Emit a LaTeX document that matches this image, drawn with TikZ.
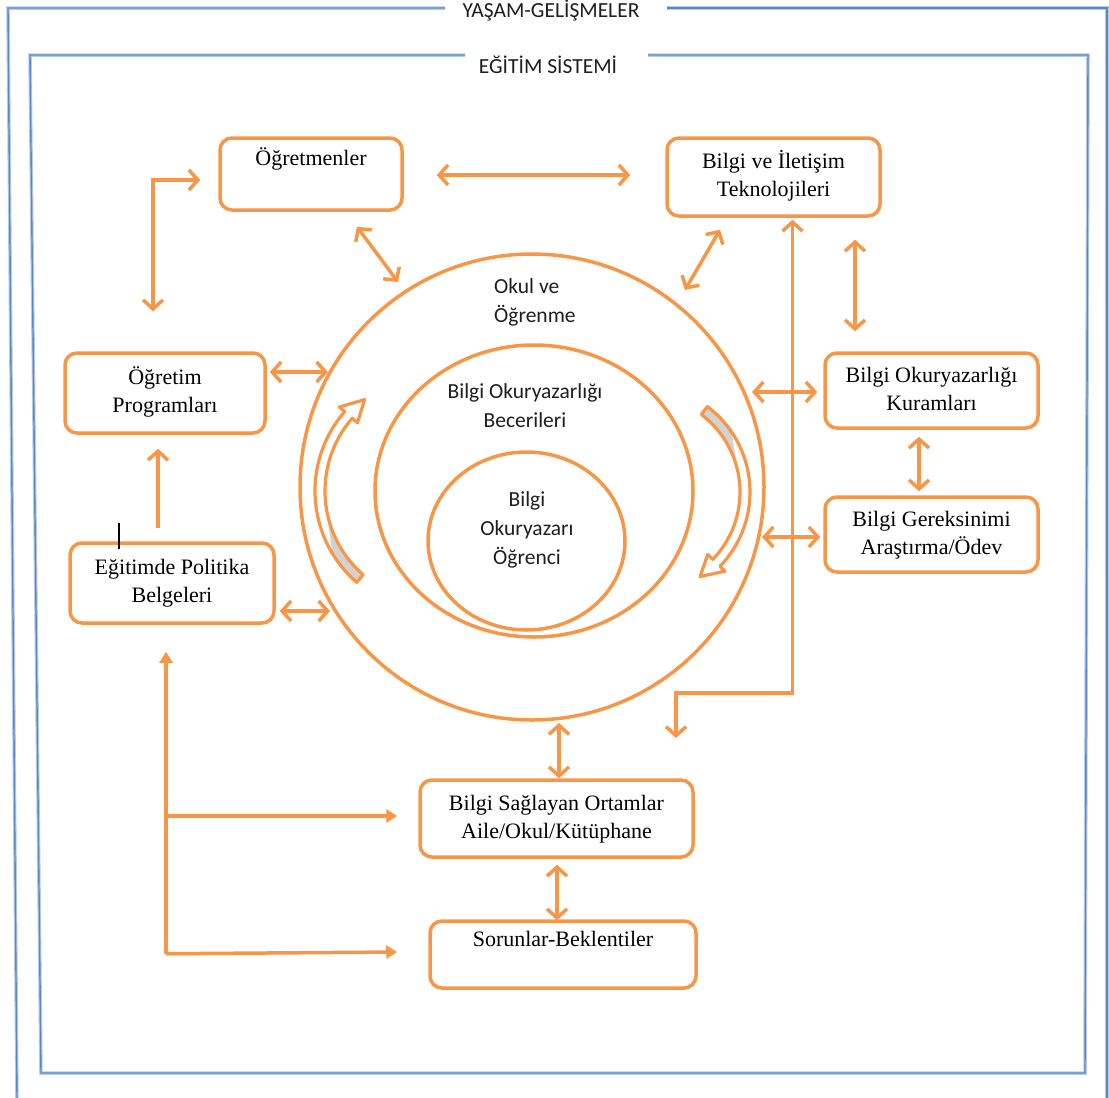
\documentclass[tikz,border=0pt]{standalone}
\usepackage{fontspec}
\setmainfont{Liberation Serif}
\newfontfamily\calfont{Carlito}
\usetikzlibrary{shapes.geometric,arrows.meta,calc}
\definecolor{org}{HTML}{F79646}
\definecolor{frm}{HTML}{5B87C7}
\definecolor{frml}{HTML}{B7CBEA}
\definecolor{txt}{HTML}{1E1E1E}
\definecolor{gry}{HTML}{D2D2D2}
\begin{document}
\begin{tikzpicture}[x=1pt,y=-1pt,
  box/.style={draw=org,line width=3.5pt,rounded corners=12pt,fill=white,inner sep=0pt,align=center,text=black,font=\fontsize{22}{28}\selectfont},
  circ/.style={draw=org,line width=3.5pt,ellipse,inner sep=0pt,outer sep=0pt},
  clbl/.style={text=txt,font=\calfont\fontsize{21.5}{29}\selectfont,inner sep=0pt},
  dbl/.style={draw=org,line width=3.5pt,{Straight Barb[length=9pt,width=20pt]}-{Straight Barb[length=9pt,width=20pt]}},
  sgl/.style={draw=org,line width=3.5pt,-{Straight Barb[length=9pt,width=20pt]}},
  fil/.style={draw=org,line width=3.5pt,-{Triangle[length=11pt,width=13pt]}},
  fr/.style={draw=frm,line width=1.4pt,preaction={draw=frml,line width=3.5pt}},
  ftitle/.style={text=txt,font=\calfont\fontsize{21.5}{26}\selectfont,inner sep=0pt},
  carrow/.style={draw=org,line width=3.2pt,line join=round}
]
\useasboundingbox (0,0) rectangle (1109,1098);

% frames
\draw[fr] (445,8) -- (8,8) -- (17,1098);
\draw[fr] (667,8) -- (1107,8) -- (1107,1098);
\draw[fr] (465,55) -- (30,55) -- (41,1073) -- (1085,1073) -- (1088,55) -- (648,55);
\node[ftitle] (ttl1) at (551,11) {YAŞAM-GELİŞMELER};
\node[ftitle] (ttl2) at (548,65) {EĞİTİM SİSTEMİ};

% circles
\node[circ,minimum width=464pt,minimum height=466pt] (c1) at (532,487) {};
\node[circ,minimum width=318pt,minimum height=292pt] (c2) at (534,491) {};
\node[circ,minimum width=197pt,minimum height=178pt] (c3) at (526.5,541) {};

\node[clbl,anchor=west,align=left] (okul) at (494,302) {\strut Okul ve\\\strut Öğrenme};
\node[clbl,align=center] (bec) at (525,407) {\strut Bilgi Okuryazarlığı\\\strut Becerileri};
\node[clbl,align=center] (ogc) at (527,530) {\strut Bilgi\\\strut Okuryazarı\\\strut Öğrenci};

% curved block arrows
\fill[gry] plot[domain=131:149,samples=16] ({436+121*cos(\x)},{491+121*sin(\x)})
  -- ({436+112*cos(165)},{491+112*sin(165)})
  -- plot[domain=149:131,samples=16] ({436+111*cos(\x)},{491+111*sin(\x)}) -- cycle;
\draw[carrow] plot[domain=131:221,samples=40] ({436+121*cos(\x)},{491+121*sin(\x)})
  -- ({436+128*cos(221)},{491+128*sin(221)})
  -- ({436+116*cos(232)},{491+116*sin(232)})
  -- ({436+104*cos(221)},{491+104*sin(221)})
  -- ({436+111*cos(221)},{491+111*sin(221)})
  -- plot[domain=221:131,samples=40] ({436+111*cos(\x)},{491+111*sin(\x)}) -- cycle;

\fill[gry] plot[domain=-53:-34,samples=16] ({643+107*cos(\x)},{492+107*sin(\x)})
  -- ({643+98*cos(-18)},{492+98*sin(-18)})
  -- plot[domain=-34:-53,samples=16] ({643+97*cos(\x)},{492+97*sin(\x)}) -- cycle;
\draw[carrow] plot[domain=-53:44,samples=40] ({643+107*cos(\x)},{492+107*sin(\x)})
  -- ({643+114*cos(44)},{492+114*sin(44)})
  -- ({643+102*cos(56)},{492+102*sin(56)})
  -- ({643+90*cos(44)},{492+90*sin(44)})
  -- ({643+97*cos(44)},{492+97*sin(44)})
  -- plot[domain=44:-53,samples=40] ({643+97*cos(\x)},{492+97*sin(\x)}) -- cycle;

% boxes
\node[box,minimum width=182pt,minimum height=72pt] (ogr) at (311,174) {\strut Öğretmenler\\\strut};
\node[box,minimum width=213pt,minimum height=78pt] (bit) at (773.5,177) {\strut Bilgi ve İletişim\\\strut Teknolojileri};
\node[box,minimum width=200pt,minimum height=80pt] (prog) at (165,393) {\strut Öğretim\\\strut Programları};
\node[box,minimum width=213pt,minimum height=75pt] (kur) at (931.5,390.5) {\strut Bilgi Okuryazarlığı\\\strut Kuramları};
\node[box,minimum width=213pt,minimum height=75pt] (ger) at (931.5,534.5) {\strut Bilgi Gereksinimi\\\strut Araştırma/Ödev};
\node[box,minimum width=204pt,minimum height=80pt] (pol) at (172,583) {\strut Eğitimde Politika\\\strut Belgeleri};
\node[box,minimum width=273pt,minimum height=77pt] (ort) at (556.5,818.5) {\strut Bilgi Sağlayan Ortamlar\\\strut Aile/Okul/Kütüphane};
\node[box,minimum width=266pt,minimum height=67pt] (sor) at (563,954.5) {\strut Sorunlar-Beklentiler\\\strut};

% connectors
\draw[dbl] ($(ogr.east)+(33,1)$) -- ($(bit.west)+(-35,-2)$);
\draw[dbl] ($(ogr.south)+(46,15)$) -- ($(c1.center)+(-134,-205)$);
\draw[dbl] ($(bit.south)+(-53.5,12)$) -- ($(c1.center)+(153,-197)$);
\draw[dbl] ($(prog.north)+(-12,-40)$) |- ($(ogr.west)+(-18,6)$);
\draw[dbl] ($(prog.east)+(3,-21)$) -- ($(c1.center)+(-204,-115)$);
\draw[sgl] ($(pol.north)+(-14,-13)$) -- ($(prog.south)+(-7,14)$);
\draw[dbl] ($(pol.east)+(4,28)$) -- ($(c1.center)+(-202,124)$);
\coordinate (bl) at ($(pol.south)+(-6,329)$);
\coordinate (om) at ($(ort.west)+(-21,-2.5)$);
\draw[fil] (bl) -- ($(pol.south)+(-6,27)$);
\draw[fil] (bl) -- ($(sor.west)+(-31,-2.5)$);
\draw[fil] (bl |- om) -- (om);
\draw[dbl] ($(c1.center)+(27,236)$) -- ($(ort.north)+(2.5,0)$);
\draw[dbl] ($(ort.south)+(0.5,6)$) -- ($(sor.north)+(-6,1)$);
\draw[dbl] ($(bit.south)+(19,2)$) |- ($(c1.center)+(144,206)$) -- ($(c1.center)+(144,251)$);
\draw[dbl] ($(bit.south)+(81.5,22)$) -- ($(kur.north)+(-76.5,-20)$);
\draw[dbl] ($(c1.center)+(220,-95)$) -- ($(kur.west)+(-6,1.5)$);
\draw[dbl] ($(kur.south)+(-12.5,7)$) -- ($(ger.north)+(-12.5,-4)$);
\draw[dbl] ($(c1.center)+(230,50)$) -- ($(ger.west)+(-3,2.5)$);

% text cursor mark
\draw[black,line width=2pt] (119,523) -- (119,549);
\end{tikzpicture}
\end{document}
